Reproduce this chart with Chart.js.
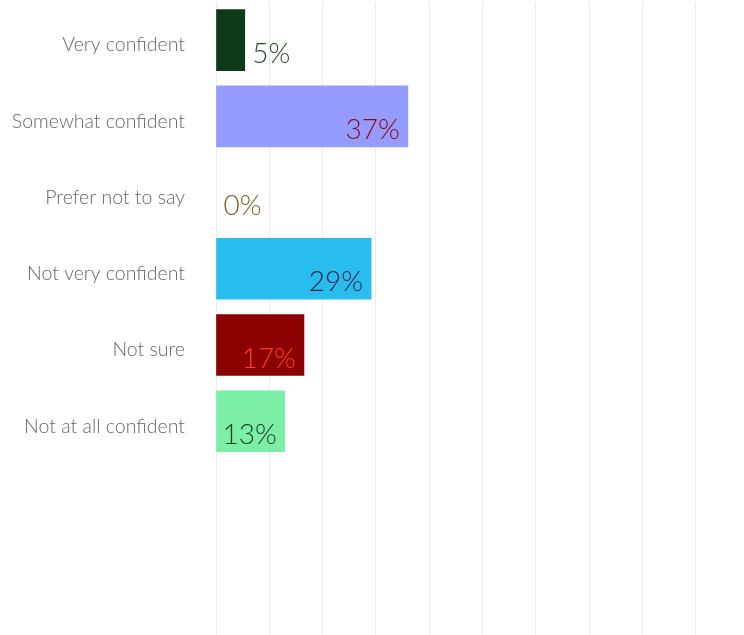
<!DOCTYPE html>
<html>
<head>
<meta charset="utf-8">
<script src="https://cdn.jsdelivr.net/npm/chart.js@4.4.0/dist/chart.umd.min.js"></script>
<style>
  html, body { margin: 0; padding: 0; background: #fff; }
  #wrap { width: 744px; height: 635px; overflow: hidden; }
  canvas { display: block; }
</style>
</head>
<body>
<div id="wrap"><canvas id="chart" width="749" height="640"></canvas></div>
<script>
// answers, top to bottom
const categories = [
  "Very confident",
  "Somewhat confident",
  "Prefer not to say",
  "Not very confident",
  "Not sure",
  "Not at all confident"
];
// bar lengths (one gridline = 10)
const values = [5.4, 36, 0, 29.1, 16.5, 12.9];
// labels as printed on the bars
const valueLabels = ["5%", "37%", "0%", "29%", "17%", "13%"];
const barColors = ["#0d3b1a", "#959bff", "#7a6324", "#29bdef", "#8b0000", "#7deea5"];
const labelColors = ["#1f4d2c", "#8b0a0a", "#7a6324", "#1c2443", "#ff3d22", "#173d24"];

const Y_MIN = -0.5;
const Y_MAX = 7.87;

// value text: inside the bar end when it fits, otherwise just after it
const valueLabelPlugin = {
  id: "valueLabels",
  afterDatasetsDraw(chart) {
    const ctx = chart.ctx;
    const meta = chart.getDatasetMeta(0);
    ctx.save();
    ctx.font = "300 28px Lato";
    ctx.textBaseline = "alphabetic";
    meta.data.forEach((bar, i) => {
      const text = valueLabels[i];
      const w = ctx.measureText(text).width;
      ctx.fillStyle = labelColors[i];
      if (bar.x - bar.base > w + 10) {
        ctx.textAlign = "right";
        ctx.fillText(text, bar.x - 8, bar.y + 22.5);
      } else {
        ctx.textAlign = "left";
        ctx.fillText(text, bar.x + 7.5, bar.y + 22.5);
      }
    });
    ctx.restore();
  }
};

Chart.defaults.font.family = "Lato";

new Chart(document.getElementById("chart"), {
  type: "bar",
  data: {
    datasets: [{
      data: values.map((v, i) => ({ x: v, y: i })),
      // zero-length bars leave no hairline
      backgroundColor: (c) => (c.raw && c.raw.x === 0) ? "rgba(0,0,0,0)" : barColors[c.dataIndex],
      borderWidth: 0,
      barThickness: 61
    }]
  },
  options: {
    indexAxis: "y",
    responsive: false,
    animation: false,
    layout: { padding: { top: 2, left: 0, right: 0, bottom: 0 } },
    plugins: { legend: { display: false }, tooltip: { enabled: false } },
    scales: {
      x: {
        type: "linear",
        min: 0,
        max: 100,
        ticks: { display: false, stepSize: 10 },
        grid: { color: "#ebebeb", lineWidth: 1, drawTicks: false },
        border: { display: false }
      },
      y: {
        type: "linear",
        reverse: true,
        offset: false,
        min: Y_MIN,
        max: Y_MAX,
        afterBuildTicks: (scale) => {
          scale.min = Y_MIN;
          scale.max = Y_MAX;
        },
        afterFit: (scale) => {
          scale.width = 216;
          scale.paddingTop = 0;
          scale.paddingBottom = 0;
        },
        grid: { display: false, drawTicks: false, offset: false },
        border: { display: false },
        ticks: {
          stepSize: 1,
          autoSkip: false,
          padding: 31,
          labelOffset: 5,
          color: "#666666",
          font: { size: 19.5, weight: 300 },
          callback: (v) => (Number.isInteger(v) && categories[v]) ? categories[v] : ""
        }
      }
    }
  },
  plugins: [valueLabelPlugin]
});
</script>
</body>
</html>
